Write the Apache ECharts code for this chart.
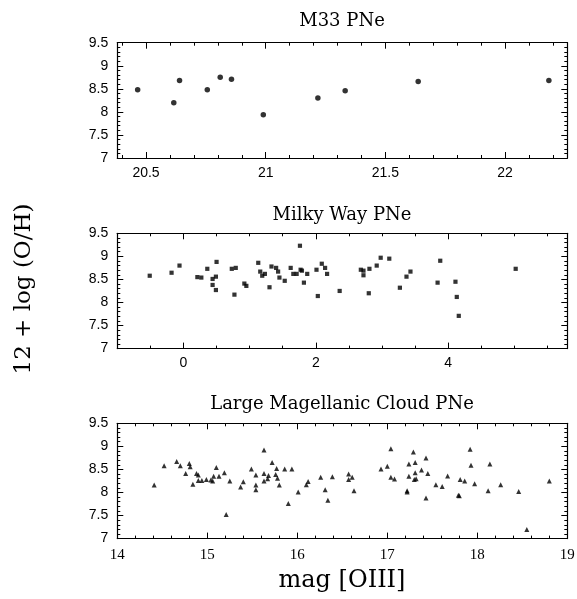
<!DOCTYPE html>
<html><head><meta charset="utf-8">
<script src="https://cdn.jsdelivr.net/npm/echarts@6/dist/echarts.min.js"></script>
<style>html,body{margin:0;padding:0;background:#fff}#c{width:577px;height:599px}</style>
</head><body><div id="c"></div>
<script>
// ---- Data ----
const panelTitles = ['M33 PNe', 'Milky Way PNe', 'Large Magellanic Cloud PNe'];
const xAxisTitle = 'mag [OIII]';
const yAxisTitle = '12 + log (O/H)';

const m33Mag = [20.465, 20.616, 20.640, 20.756, 20.81, 20.857, 20.99, 21.218, 21.332, 21.637, 22.183];
const m33OH  = [8.48, 8.20, 8.68, 8.48, 8.75, 8.71, 7.94, 8.30, 8.46, 8.66, 8.68];

const mwMag = [-0.51,-0.18,-0.06,0.21,0.27,0.36,0.44,0.44,0.49,0.49,0.50,0.73,0.79,0.77,0.92,0.95,1.13,1.16,1.19,1.23,1.30,1.33,1.40,1.43,1.45,1.53,1.62,1.66,1.71,1.76,1.77,1.79,1.82,1.87,2.01,2.03,2.09,2.14,2.17,2.36,2.68,2.72,2.72,2.80,2.81,2.92,2.98,3.11,3.27,3.37,3.43,3.84,3.88,4.11,4.13,4.16,5.02];
const mwOH  = [8.58,8.645,8.80,8.55,8.54,8.73,8.51,8.38,8.56,8.27,8.88,8.73,8.75,8.17,8.41,8.36,8.86,8.67,8.58,8.62,8.33,8.78,8.75,8.67,8.54,8.47,8.75,8.62,8.62,9.23,8.71,8.69,8.43,8.62,8.71,8.14,8.84,8.75,8.62,8.25,8.71,8.69,8.59,8.20,8.73,8.80,8.97,8.95,8.32,8.56,8.67,8.43,8.905,8.45,8.12,7.71,8.73];

const lmcMag = [14.41,14.52,14.66,14.70,14.76,14.80,14.81,14.84,14.88,14.90,14.90,14.94,14.99,15.04,15.07,15.06,15.10,15.13,15.19,15.21,15.25,15.37,15.40,15.49,15.54,15.54,15.54,15.63,15.63,15.63,15.67,15.68,15.72,15.76,15.77,15.78,15.80,15.86,15.90,15.94,16.01,16.10,16.12,16.26,16.31,16.34,16.39,16.57,16.57,16.61,16.63,16.93,17.00,17.04,17.04,17.08,17.22,17.22,17.24,17.24,17.29,17.31,17.31,17.32,17.30,17.38,17.43,17.43,17.45,17.54,17.61,17.67,17.79,17.80,17.81,17.86,17.92,17.93,17.97,18.12,18.14,18.26,18.46,18.55,18.80];
const lmcOH  = [8.16,8.58,8.67,8.58,8.41,8.63,8.56,8.18,8.41,8.38,8.26,8.26,8.28,8.27,8.35,8.25,8.54,8.35,8.43,7.52,8.25,8.12,8.23,8.51,8.38,8.16,8.06,8.92,8.41,8.25,8.30,8.37,8.65,8.39,8.52,8.31,8.16,8.51,7.76,8.51,8.01,8.17,8.24,8.33,8.06,7.83,8.34,8.40,8.28,8.33,8.04,8.51,8.57,8.95,8.33,8.29,8.04,8.01,8.35,8.62,8.88,8.65,8.43,8.30,8.28,8.49,7.88,8.75,8.41,8.17,8.13,8.36,7.94,7.93,8.28,8.25,8.94,8.59,8.19,8.04,8.62,8.17,8.02,7.20,8.25];

// tick labels
const yTicks   = [7, 7.5, 8, 8.5, 9, 9.5];
const m33Ticks = [20.5, 21, 21.5, 22];
const mwTicks  = [0, 2, 4];
const lmcTicks = [14, 15, 16, 17, 18, 19];

// ---- Layout ----
const GL = 117.3, GW = 450, GH = 115.3;
const gridTops = [42.7, 233.3, 423.3];
const panels = [
  {min: 20.38, max: 22.26, majors: m33Ticks, step: 0.1, x: m33Mag, y: m33OH, symbol: 'circle', size: 5.5, font: 'Liberation Sans', fs: 14, margin: 8},
  {min: -1, max: 5.8, majors: mwTicks, step: 0.5, x: mwMag, y: mwOH, symbol: 'rect', size: 4.2, font: 'Liberation Sans', fs: 14, margin: 8},
  {min: 14, max: 19, majors: lmcTicks, step: 0.2, x: lmcMag, y: lmcOH, symbol: 'triangle', size: 5, font: 'Liberation Serif', fs: 15, margin: 9}
];

function minorsOf(min, max, step, majors) {
  const out = [];
  const start = Math.ceil(min / step - 1e-9);
  for (let k = start; k * step <= max + 1e-9; k++) {
    const v = Math.round(k * step * 1000) / 1000;
    if (!majors.some(m => Math.abs(m - v) < 1e-6)) out.push(v);
  }
  return out;
}
const yMinors = minorsOf(7, 9.5, 0.1, yTicks);

const grids = [], xAxes = [], yAxes = [], series = [];
const black = '#000';
const LW = 1.2, MAJ = 6, MIN = 3;
panels.forEach((p, gi) => {
  grids.push({left: GL, top: gridTops[gi], width: GW, height: GH, containLabel: false, outerBoundsMode: 'none'});
  const xMin = minorsOf(p.min, p.max, p.step, p.majors);
  const baseX = (pos, vals, len, withLine, withLabel) => ({
    type: 'value', gridIndex: gi, position: pos, min: p.min, max: p.max,
    axisLine: {show: withLine, onZero: false, lineStyle: {color: black, width: LW}},
    axisTick: {show: true, inside: true, length: len, customValues: vals, lineStyle: {color: black, width: 1}},
    axisLabel: withLabel ? {show: true, customValues: p.majors, color: black, fontFamily: p.font, fontSize: p.fs, margin: p.margin} : {show: false},
    splitLine: {show: false}
  });
  const xi = xAxes.length;
  xAxes.push(baseX('bottom', p.majors, MAJ, true, true));
  xAxes.push(baseX('bottom', xMin, MIN, false, false));
  xAxes.push(baseX('top', p.majors, MAJ, true, false));
  xAxes.push(baseX('top', xMin, MIN, false, false));
  const baseY = (pos, vals, len, withLine, withLabel) => ({
    type: 'value', gridIndex: gi, position: pos, min: 7, max: 9.5,
    axisLine: {show: withLine, onZero: false, lineStyle: {color: black, width: LW}},
    axisTick: {show: true, inside: true, length: len, customValues: vals, lineStyle: {color: black, width: 1}},
    axisLabel: withLabel ? {show: true, customValues: yTicks, color: black, fontFamily: 'Liberation Sans', fontSize: 14, margin: 9} : {show: false},
    splitLine: {show: false}
  });
  const yi = yAxes.length;
  yAxes.push(baseY('left', yTicks, MAJ, true, true));
  yAxes.push(baseY('left', yMinors, MIN, false, false));
  yAxes.push(baseY('right', yTicks, MAJ, true, false));
  yAxes.push(baseY('right', yMinors, MIN, false, false));
  series.push({
    type: 'scatter', xAxisIndex: xi, yAxisIndex: yi,
    symbol: p.symbol, symbolSize: p.size,
    itemStyle: {color: black},
    data: p.x.map((v, i) => [v, p.y[i]]),
    silent: true, animation: false
  });
});

const titleFont = '18px "DejaVu Serif"';
const T = (text, x, y, font, rot) => ({type: 'text', x: x, y: y, rotation: rot || 0,
  style: {text: text, font: font, fill: black, align: 'center', verticalAlign: 'middle', textAlign: 'center', textVerticalAlign: 'middle'}});
const graphics = [
  T(panelTitles[0], 342, 21, titleFont),
  T(panelTitles[1], 342, 215, titleFont),
  T(panelTitles[2], 342, 404, titleFont),
  T(xAxisTitle, 342, 581, '24px "DejaVu Serif"'),
  T(yAxisTitle, 24, 289, '23px "DejaVu Serif"', Math.PI / 2)
];

const chart = echarts.init(document.getElementById('c'), null, {renderer: 'canvas'});
chart.setOption({
  backgroundColor: '#fff',
  animation: false,
  grid: grids,
  xAxis: xAxes,
  yAxis: yAxes,
  series: series,
  graphic: graphics
});
</script></body></html>
